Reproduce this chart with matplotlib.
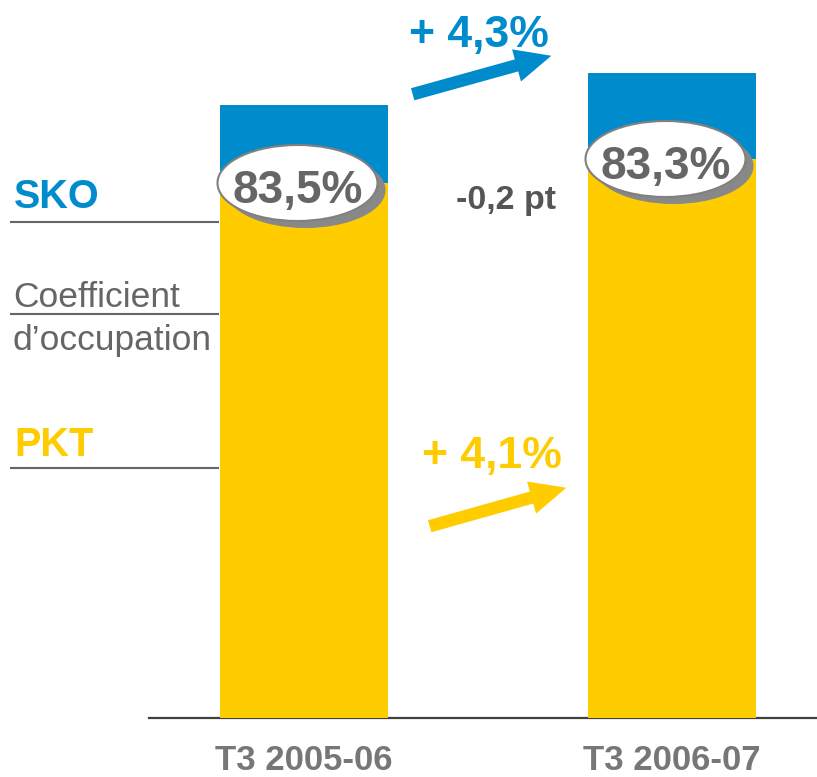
import matplotlib
matplotlib.use("Agg")
import matplotlib.pyplot as plt
from matplotlib.patches import Ellipse, FancyArrowPatch

plt.rcParams['font.family'] = ['Liberation Sans', 'DejaVu Sans']

# ---- data ----
categories = ["T3 2005-06", "T3 2006-07"]
sko = [613, 645]          # relative heights of SKO (total bar)
pkt = [535, 559]          # relative heights of PKT (yellow part)
load_factor = ["83,5%", "83,3%"]
sko_change = "+ 4,3%"
pkt_change = "+ 4,1%"
lf_change = "-0,2 pt"

BLUE = "#008CCC"
YELLOW = "#FFCC00"
GRAY = "#666666"

W, H = 817, 777
fig = plt.figure(figsize=(W / 100, H / 100), dpi=100)

# main bar axes
x0_px, base_px = 149, 718
ax = fig.add_axes([x0_px / W, (H - base_px) / H, (W - x0_px) / W, base_px / H])
spacing = 368.0
xl = -(303.5 - x0_px) / spacing
xr = 1 + (W - 671.5) / spacing
ax.set_xlim(xl, xr)
ax.set_ylim(0, base_px)
xs = range(len(categories))
bw = 168 / spacing
ax.bar(xs, sko, width=bw, color=BLUE, zorder=2)
ax.bar(xs, pkt, width=bw, color=YELLOW, zorder=3)
for s in ["top", "right", "left"]:
    ax.spines[s].set_visible(False)
ax.spines["bottom"].set_color("#404040")
ax.spines["bottom"].set_linewidth(1.6)
ax.set_yticks([])
ax.set_xticks(list(xs))
ax.set_xticklabels(categories, fontsize=25, fontweight="bold", color="#777777")
ax.tick_params(axis="x", length=0, pad=19)

# ellipses with load factor
ew, eh = 160 / spacing, 76
for i, (v, lab) in enumerate(zip(pkt, load_factor)):
    cx = i - 6 / spacing
    shadow = Ellipse((cx + 8 / spacing, v - 7), ew, eh, facecolor="#888888",
                     edgecolor="none", zorder=4)
    ax.add_patch(shadow)
    ell = Ellipse((cx, v), ew, eh, facecolor="white", edgecolor="#808080",
                  linewidth=1.5, zorder=5)
    ax.add_patch(ell)
    ax.text(cx, v - 20, lab, ha="center", va="baseline", fontsize=33,
            fontweight="bold", color=GRAY, zorder=6)

# overlay axes in pixel coordinates for annotations
ov = fig.add_axes([0, 0, 1, 1], zorder=10)
ov.set_xlim(0, W)
ov.set_ylim(H, 0)
ov.axis("off")
ov.patch.set_alpha(0)

# left legend labels + lines
ov.text(14, 208, "SKO", fontsize=28.5, fontweight="bold", color=BLUE, va="baseline")
ov.text(13, 307, "Coefficient", fontsize=25.5, color=GRAY, va="baseline")
ov.text(13, 350, "d\u2019occupation", fontsize=25.5, color=GRAY, va="baseline")
ov.text(14, 456, "PKT", fontsize=28.5, fontweight="bold", color=YELLOW, va="baseline")
for yl in (222, 314, 468):
    ov.plot([10, 219], [yl, yl], color=GRAY, lw=1.5, solid_capstyle="butt")

# change annotations
ov.text(479, 47, sko_change, fontsize=32, fontweight="bold", color=BLUE,
        ha="center", va="baseline")
ov.add_patch(FancyArrowPatch((410, 95), (554, 55),
                             arrowstyle="simple,head_length=2.6,head_width=2.4,tail_width=0.9",
                             mutation_scale=10, color=BLUE, lw=0))
ov.text(492, 468, pkt_change, fontsize=32, fontweight="bold", color=YELLOW,
        ha="center", va="baseline")
ov.add_patch(FancyArrowPatch((427, 527), (569, 487),
                             arrowstyle="simple,head_length=2.6,head_width=2.4,tail_width=0.9",
                             mutation_scale=10, color=YELLOW, lw=0))
ov.text(506, 209, lf_change, fontsize=24.5, fontweight="bold", color="#555555",
        ha="center", va="baseline")

fig.savefig("out.png", dpi=100)
